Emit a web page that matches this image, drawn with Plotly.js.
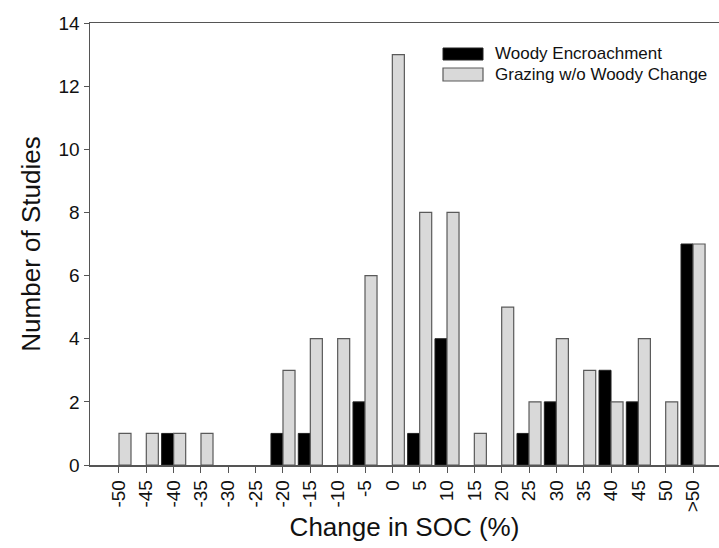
<!DOCTYPE html>
<html>
<head>
<meta charset="utf-8">
<script src="https://cdn.plot.ly/plotly-3.0.1.min.js"></script>
<style>html,body{margin:0;padding:0;background:#fff;}#chart{width:719px;height:548px;}</style>
</head>
<body>
<div id="chart"></div>
<script>
const categories = ["-50","-45","-40","-35","-30","-25","-20","-15","-10","-5","0","5","10","15","20","25","30","35","40","45","50",">50"];
const woodyEncroachment = [0,0,1,0,0,0,1,1,0,2,0,1,4,0,0,1,2,0,3,2,0,7];
const grazingNoWoody    = [1,1,1,1,0,0,3,4,4,6,13,8,8,1,5,2,4,3,2,4,2,7];
const seriesNames = ["Woody Encroachment","Grazing w/o Woody Change"];

const font = "Liberation Sans, Arial, sans-serif";
const lw = (vals, w) => vals.map(v => v > 0 ? w : 0);
const traces = [
  {type:"bar", name:seriesNames[0], x:categories, y:woodyEncroachment,
   marker:{color:"#000000", line:{color:"#222222", width:lw(woodyEncroachment, 1)}}, showlegend:false},
  {type:"bar", name:seriesNames[1], x:categories, y:grazingNoWoody,
   marker:{color:"#d9d9d9", line:{color:"#5a5a5a", width:lw(grazingNoWoody, 1.2)}}, showlegend:false}
];

const layout = {
  width:719, height:548,
  margin:{l:90, r:0, t:23, b:83},
  paper_bgcolor:"#ffffff", plot_bgcolor:"#ffffff",
  barmode:"group", bargap:0.12, bargroupgap:0,
  font:{family:font, color:"#111111"},
  xaxis:{type:"category", categoryorder:"array", categoryarray:categories,
    range:[-1.06, 21.95], showgrid:false, zeroline:false,
    showline:true, linecolor:"#555555", linewidth:1.5, mirror:true,
    ticks:"outside", ticklen:6, tickcolor:"#555555", tickwidth:1,
    tickangle:-90, tickfont:{size:19, family:font, color:"#111"},
    title:{text:"Change in SOC (%)", font:{size:26, family:font, color:"#111"}, standoff:6}},
  yaxis:{range:[0,14], dtick:2, tick0:0, showgrid:false, zeroline:false,
    showline:true, linecolor:"#555555", linewidth:1.5,
    ticks:"outside", ticklen:5, tickcolor:"#555555", tickwidth:1,
    tickfont:{size:19, family:font, color:"#111"},
    title:{text:"Number of Studies", font:{size:26, family:font, color:"#111"}, standoff:10}},
  shapes:[
    {type:"rect", xref:"paper", yref:"paper", x0:(443-90)/629, x1:(483-90)/629, y0:(465-60)/442, y1:(465-48)/442,
     fillcolor:"#000000", line:{color:"#222", width:1}},
    {type:"rect", xref:"paper", yref:"paper", x0:(443-90)/629, x1:(483-90)/629, y0:(465-81)/442, y1:(465-68)/442,
     fillcolor:"#d9d9d9", line:{color:"#5a5a5a", width:1.2}}
  ],
  annotations:[
    {xref:"paper", yref:"paper", x:(493-90)/629, y:(465-54)/442, xanchor:"left", yanchor:"middle",
     text:seriesNames[0], showarrow:false, font:{size:17, family:font, color:"#111"}},
    {xref:"paper", yref:"paper", x:(493-90)/629, y:(465-74)/442, xanchor:"left", yanchor:"middle",
     text:seriesNames[1], showarrow:false, font:{size:17, family:font, color:"#111"}}
  ]
};

Plotly.newPlot("chart", traces, layout, {displayModeBar:false, staticPlot:true});
</script>
</body>
</html>
